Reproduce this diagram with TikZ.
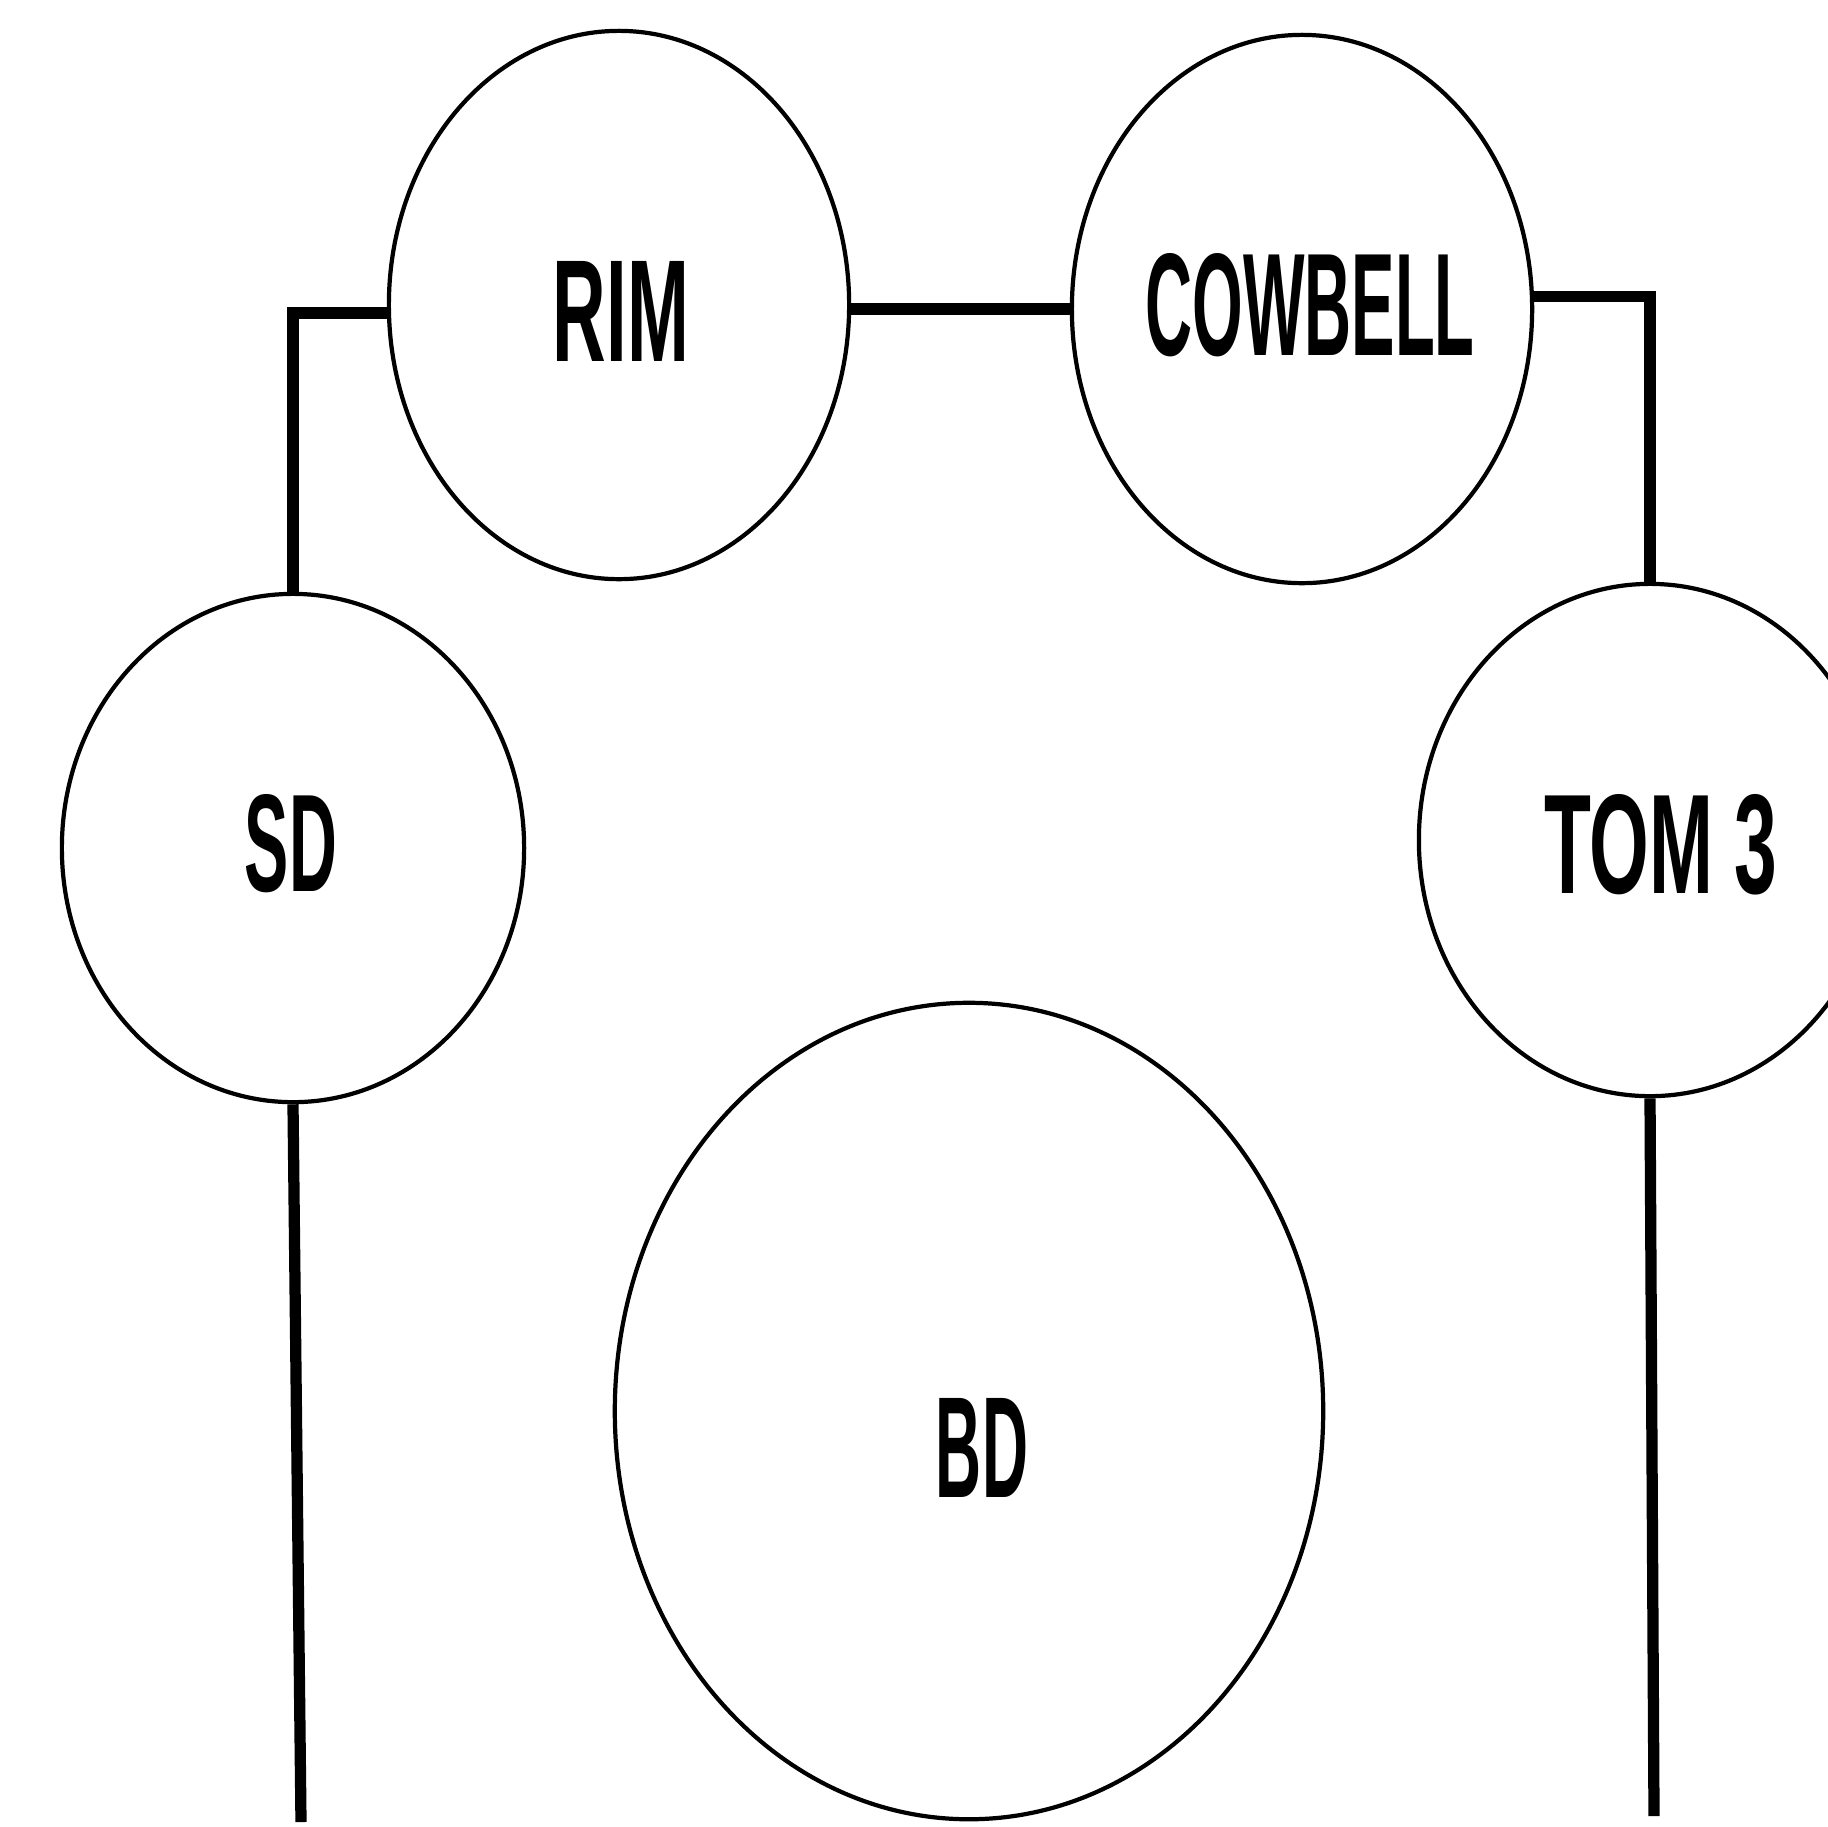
\documentclass[tikz,border=0pt]{standalone}
\usepackage{fontspec}
\setmainfont{Liberation Sans}
\usetikzlibrary{shapes.geometric}
\newcommand\drumtxt[3]{\resizebox{#1}{#2}{\bfseries #3}}
\begin{document}
\begin{tikzpicture}[x=0.01cm,y=-0.01cm,
  drum/.style={draw, ellipse, line width=1.2pt, inner sep=0pt},
  wire/.style={line width=3.2pt},
  lbl/.style={inner sep=0pt, anchor=center}]
\useasboundingbox (0,0) rectangle (1828,1826);
\clip (0,0) rectangle (1828,1826);
% drums
\node[drum, minimum width=4.60cm, minimum height=5.48cm] (rim) at (619,305) {};
\node[drum, minimum width=4.60cm, minimum height=5.48cm] (cow) at (1302,309) {};
\node[drum, minimum width=4.62cm, minimum height=5.08cm] (sd) at (293,848) {};
\node[drum, minimum width=4.62cm, minimum height=5.12cm] (tom) at (1650,840) {};
\node[drum, minimum width=7.08cm, minimum height=8.16cm] (bd) at (969,1411) {};
% labels
\node[lbl] (rimT) at (621,311) {\drumtxt{1.36cm}{1.00cm}{RIM}};
\node[lbl] (cowT) at (1310,305) {\drumtxt{3.29cm}{1.02cm}{COWBELL}};
\node[lbl] (sdT) at (291,844) {\drumtxt{0.92cm}{0.97cm}{SD}};
\node[lbl] (tomT) at (1661,845) {\drumtxt{2.33cm}{0.99cm}{TOM 3}};
\node[lbl] (bdT) at (982,1448) {\drumtxt{0.92cm}{0.99cm}{BD}};
% free ends
\coordinate (sdEnd) at (301,1822);
\coordinate (tomEnd) at (1654,1816);
% connectors
\draw[wire] (sd.north) |- (rim.182);
\draw[wire] (rim.-1) -- (rim.-1 -| cow.west);
\draw[wire] (cow.3) -| (tom.north);
\draw[wire] (sd.south) -- (sdEnd);
\draw[wire] (tom.south) -- (tomEnd);
\end{tikzpicture}
\end{document}
